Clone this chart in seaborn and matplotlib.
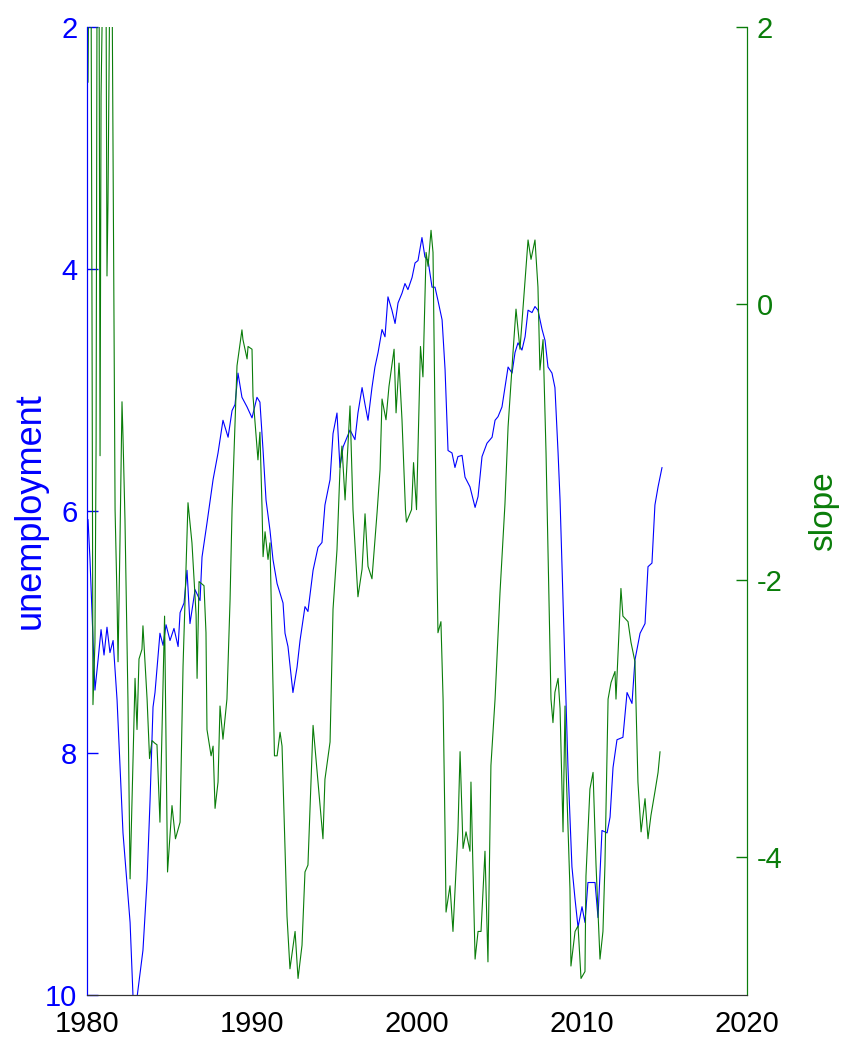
import numpy as np
import pandas as pd
import seaborn as sns
import matplotlib.pyplot as plt

sns.set_style('white')
plt.rcParams['font.family'] = ['Liberation Sans', 'DejaVu Sans']
plt.rcParams['axes.unicode_minus'] = False

# unemployment rate (left axis, inverted)
unemp_year = [1980.06, 1980.18, 1980.48, 1980.67, 1980.85, 1981.03, 1981.21, 1981.39, 1981.58, 1981.82,
              1982.18, 1982.61, 1982.79, 1982.91, 1983.03, 1983.39, 1983.64, 1983.82, 1984.00, 1984.12,
              1984.42, 1984.61, 1984.79, 1985.03, 1985.27, 1985.52, 1985.64, 1985.88, 1986.06, 1986.24,
              1986.55, 1986.85, 1986.97, 1987.27, 1987.64, 1987.94, 1988.24, 1988.55, 1988.79, 1988.97,
              1989.15, 1989.39, 1989.70, 1990.00, 1990.30, 1990.48, 1990.67, 1990.85, 1991.09, 1991.27,
              1991.52, 1991.88, 1992.00, 1992.18, 1992.48, 1992.73, 1992.91, 1993.21, 1993.39, 1993.70,
              1994.00, 1994.24, 1994.42, 1994.73, 1994.91, 1995.15, 1995.33, 1995.52, 1995.76, 1995.94,
              1996.24, 1996.42, 1996.67, 1996.85, 1997.03, 1997.27, 1997.45, 1997.64, 1997.88, 1998.06,
              1998.24, 1998.48, 1998.67, 1998.85, 1999.09, 1999.27, 1999.45, 1999.70, 1999.88, 2000.06,
              2000.30, 2000.48, 2000.67, 2000.91, 2001.09, 2001.27, 2001.52, 2001.70, 2001.88, 2002.12,
              2002.30, 2002.48, 2002.73, 2002.91, 2003.21, 2003.52, 2003.70, 2003.94, 2004.24, 2004.55,
              2004.73, 2004.91, 2005.15, 2005.33, 2005.52, 2005.76, 2005.94, 2006.12, 2006.36, 2006.55,
              2006.73, 2006.97, 2007.15, 2007.33, 2007.58, 2007.76, 2007.94, 2008.18, 2008.36, 2008.55,
              2008.67, 2008.79, 2008.97, 2009.15, 2009.39, 2009.58, 2009.76, 2010.00, 2010.18, 2010.36,
              2010.79, 2010.97, 2011.21, 2011.52, 2011.70, 2011.88, 2012.12, 2012.48, 2012.73, 2013.03,
              2013.21, 2013.52, 2013.82, 2014.00, 2014.24, 2014.42, 2014.61, 2014.85]
unemp = [6.07, 6.40, 7.48, 7.23, 6.98, 7.19, 6.96, 7.17, 7.07, 7.56,
         8.66, 9.40, 10.02, 10.12, 10.02, 9.63, 9.05, 8.39, 7.62, 7.50,
         7.01, 7.11, 6.94, 7.07, 6.97, 7.12, 6.84, 6.76, 6.49, 6.93,
         6.65, 6.74, 6.38, 6.10, 5.74, 5.52, 5.25, 5.39, 5.17, 5.12,
         4.86, 5.06, 5.14, 5.23, 5.06, 5.10, 5.50, 5.91, 6.16, 6.40,
         6.60, 6.76, 7.01, 7.12, 7.50, 7.29, 7.07, 6.79, 6.83, 6.49,
         6.30, 6.26, 5.95, 5.74, 5.36, 5.19, 5.64, 5.47, 5.39, 5.33,
         5.41, 5.19, 4.98, 5.12, 5.25, 4.98, 4.81, 4.69, 4.50, 4.56,
         4.23, 4.34, 4.45, 4.28, 4.20, 4.12, 4.17, 4.07, 3.95, 3.93,
         3.74, 3.90, 3.93, 4.15, 4.15, 4.26, 4.42, 4.83, 5.50, 5.52,
         5.64, 5.55, 5.54, 5.72, 5.80, 5.97, 5.88, 5.55, 5.44, 5.39,
         5.25, 5.22, 5.14, 4.98, 4.81, 4.86, 4.69, 4.61, 4.67, 4.56,
         4.34, 4.36, 4.31, 4.34, 4.50, 4.59, 4.81, 4.86, 4.98, 5.52,
         5.91, 6.46, 7.29, 8.12, 8.94, 9.21, 9.44, 9.27, 9.40, 9.07,
         9.07, 9.36, 8.64, 8.66, 8.53, 8.12, 7.89, 7.87, 7.50, 7.59,
         7.23, 7.01, 6.93, 6.46, 6.43, 5.95, 5.80, 5.64]

# yield curve slope (right axis); values above 2 run off the top
slope_year = [1980.06, 1980.12, 1980.24, 1980.30, 1980.36, 1980.48, 1980.55, 1980.61, 1980.73, 1980.79,
              1980.85, 1980.97, 1981.15, 1981.21, 1981.27, 1981.39, 1981.52, 1981.70, 1981.82, 1981.88,
              1982.00, 1982.12, 1982.18, 1982.30, 1982.48, 1982.61, 1982.73, 1982.91, 1983.03, 1983.15,
              1983.33, 1983.39, 1983.64, 1983.79, 1983.94, 1984.12, 1984.24, 1984.42, 1984.70, 1984.88,
              1985.15, 1985.36, 1985.64, 1985.82, 1986.12, 1986.36, 1986.61, 1986.67, 1986.79, 1987.09,
              1987.21, 1987.27, 1987.52, 1987.64, 1987.76, 1987.94, 1988.06, 1988.24, 1988.48, 1988.67,
              1988.79, 1989.09, 1989.39, 1989.45, 1989.70, 1989.76, 1990.00, 1990.06, 1990.30, 1990.36,
              1990.48, 1990.61, 1990.67, 1990.79, 1990.97, 1991.09, 1991.36, 1991.52, 1991.70, 1991.82,
              1992.12, 1992.30, 1992.61, 1992.79, 1993.03, 1993.21, 1993.39, 1993.70, 1994.00, 1994.30,
              1994.42, 1994.73, 1994.91, 1995.15, 1995.33, 1995.45, 1995.64, 1995.94, 1996.12, 1996.42,
              1996.67, 1996.85, 1997.03, 1997.27, 1997.58, 1997.76, 1997.88, 1998.12, 1998.30, 1998.61,
              1998.73, 1998.91, 1999.09, 1999.30, 1999.36, 1999.67, 1999.79, 1999.97, 2000.21, 2000.36,
              2000.55, 2000.67, 2000.85, 2000.97, 2001.15, 2001.27, 2001.45, 2001.58, 2001.70, 2001.76,
              2002.00, 2002.18, 2002.48, 2002.61, 2002.79, 2002.97, 2003.21, 2003.27, 2003.52, 2003.70,
              2003.88, 2004.12, 2004.30, 2004.48, 2004.73, 2005.03, 2005.33, 2005.52, 2005.82, 2006.00,
              2006.24, 2006.55, 2006.73, 2006.91, 2007.15, 2007.33, 2007.45, 2007.64, 2007.82, 2008.00,
              2008.12, 2008.24, 2008.36, 2008.55, 2008.67, 2008.85, 2008.97, 2009.03, 2009.27, 2009.33,
              2009.58, 2009.76, 2009.94, 2010.18, 2010.24, 2010.48, 2010.67, 2010.85, 2011.09, 2011.27,
              2011.39, 2011.58, 2011.76, 2012.00, 2012.06, 2012.36, 2012.48, 2012.79, 2012.97, 2013.21,
              2013.39, 2013.58, 2013.82, 2014.00, 2014.18, 2014.42, 2014.61, 2014.73]
slope = [1.60, 2.60, 2.60, 0.00, -2.90, -2.45, -1.00, 2.50, 2.40, -1.10,
         1.50, 2.50, 2.40, 0.20, 0.73, 2.50, 2.30, -1.49, -2.14, -2.59,
         -1.70, -0.71, -0.96, -1.56, -2.86, -4.16, -3.58, -2.71, -3.08, -2.57,
         -2.50, -2.33, -2.86, -3.29, -3.16, -3.18, -3.19, -3.75, -2.26, -4.11,
         -3.63, -3.87, -3.75, -2.62, -1.44, -1.73, -2.25, -2.71, -2.01, -2.04,
         -2.38, -3.08, -3.27, -3.20, -3.65, -3.46, -2.91, -3.15, -2.86, -2.14,
         -1.49, -0.45, -0.19, -0.26, -0.40, -0.31, -0.33, -0.67, -1.03, -1.13,
         -0.93, -1.49, -1.83, -1.65, -1.85, -1.73, -3.27, -3.27, -3.10, -3.20,
         -4.43, -4.81, -4.54, -4.88, -4.64, -4.11, -4.06, -3.05, -3.46, -3.87,
         -3.44, -3.17, -2.21, -1.78, -1.20, -1.03, -1.42, -0.74, -1.49, -2.12,
         -1.92, -1.52, -1.90, -1.99, -1.51, -1.20, -0.69, -0.84, -0.60, -0.33,
         -0.79, -0.43, -0.84, -1.49, -1.58, -1.49, -1.15, -1.49, -0.31, -0.53,
         0.37, 0.27, 0.53, 0.37, -1.42, -2.38, -2.30, -2.86, -3.82, -4.40,
         -4.21, -4.54, -3.82, -3.24, -3.94, -3.82, -3.96, -3.46, -4.74, -4.54,
         -4.54, -3.96, -4.76, -3.34, -2.86, -2.09, -1.45, -0.89, -0.35, -0.04,
         -0.33, 0.17, 0.46, 0.32, 0.46, 0.12, -0.48, -0.26, -1.08, -2.14,
         -2.86, -3.03, -2.81, -2.71, -2.93, -3.82, -2.91, -3.34, -4.23, -4.79,
         -4.54, -4.50, -4.88, -4.83, -4.14, -3.51, -3.39, -4.06, -4.74, -4.54,
         -4.06, -2.86, -2.74, -2.66, -2.86, -2.06, -2.26, -2.30, -2.45, -2.59,
         -3.46, -3.82, -3.58, -3.87, -3.70, -3.53, -3.39, -3.24]

blue = '#0000ff'
green = '#0a7d0a'

df_u = pd.DataFrame({'year': unemp_year, 'unemployment': unemp})
df_s = pd.DataFrame({'year': slope_year, 'slope': slope})

fig = plt.figure(figsize=(8.54, 10.39), dpi=100)
ax = fig.add_axes([0.1019, 0.0423, 0.7728, 0.9317])
ax2 = ax.twinx()

sns.lineplot(data=df_u, x='year', y='unemployment', ax=ax, color=blue, linewidth=0.8)
sns.lineplot(data=df_s, x='year', y='slope', ax=ax2, color=green, linewidth=0.8)

ax.set_xlim(1980, 2020)
ax.set_ylim(10, 2)
ax2.set_ylim(-5, 2)
ax.set_xticks([1980, 1990, 2000, 2010, 2020])
ax.set_yticks([2, 4, 6, 8, 10])
ax2.set_yticks([-4, -2, 0, 2])

ax.set_xlabel('')
ax.set_ylabel('unemployment', color=blue, fontsize=26)
ax2.set_ylabel('slope', color=green, fontsize=24)
ax.yaxis.set_label_coords(-0.06, 0.5)
ax2.yaxis.set_label_coords(1.092, 0.5)

ax.tick_params(axis='x', direction='in', length=8, width=1, colors='black', labelsize=21, pad=11)
ax.tick_params(axis='y', direction='in', length=8, width=1, colors=blue, labelsize=21, pad=7)
ax2.tick_params(axis='y', direction='in', length=8, width=1, colors=green, labelsize=21, pad=7)

for a in (ax, ax2):
    a.spines['top'].set_visible(False)
    a.spines['bottom'].set_color('#333333')
    a.spines['left'].set_color(blue)
    a.spines['right'].set_color(green)
    a.grid(False)

fig.savefig('out.png', dpi=100)
